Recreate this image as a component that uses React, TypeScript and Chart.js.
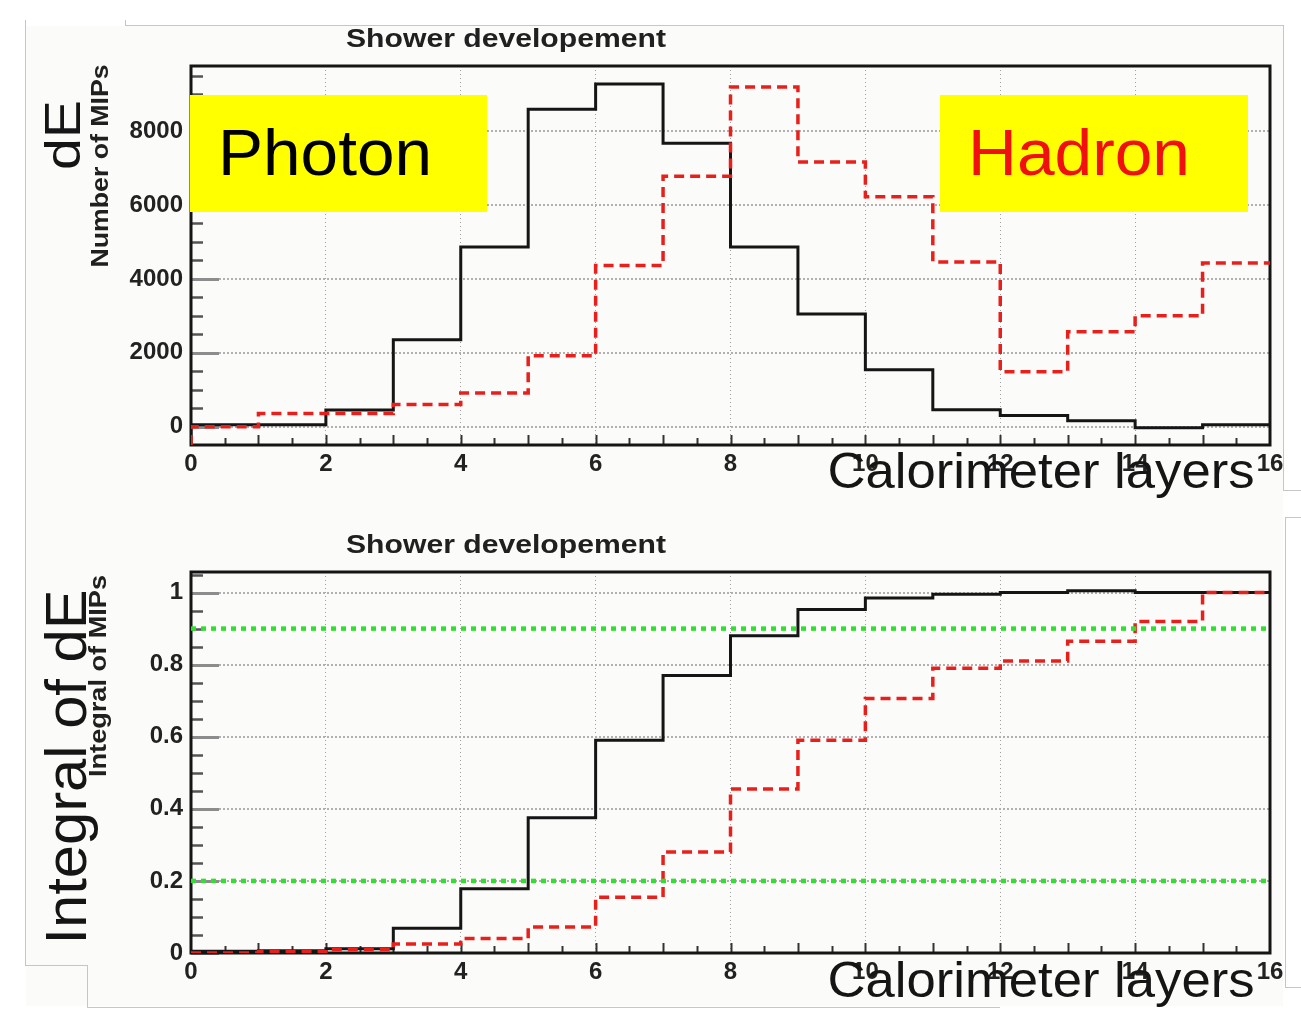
import React, { useEffect, useRef } from "react";
import { Chart, registerables } from "chart.js";

Chart.register(...registerables);

// ---------------- data ----------------
const LAYER_EDGES = [0, 1, 2, 3, 4, 5, 6, 7, 8, 9, 10, 11, 12, 13, 14, 15];
const X_MAX = 16;
const X_TICKS = [0, 2, 4, 6, 8, 10, 12, 14, 16];

const PHOTON_DE = [50, 50, 450, 2350, 4860, 8590, 9270, 7670, 4860, 3050, 1540, 460, 300, 160, -30, 50];
const HADRON_DE = [0, 360, 360, 600, 910, 1920, 4360, 6780, 9190, 7160, 6220, 4460, 1490, 2570, 3000, 4430];
const DE_TICKS = [0, 2000, 4000, 6000, 8000];
const DE_MIN = -495;
const DE_MAX = 9760;

const PHOTON_INT = [0.005, 0.006, 0.012, 0.069, 0.178, 0.375, 0.59, 0.77, 0.88, 0.953, 0.985, 0.995, 1.0, 1.005, 1.0, 1.0];
const HADRON_INT = [0.0, 0.004, 0.009, 0.025, 0.04, 0.072, 0.155, 0.28, 0.455, 0.59, 0.706, 0.79, 0.81, 0.865, 0.92, 1.0];
const INT_TICKS = [0, 0.2, 0.4, 0.6, 0.8, 1];
const INT_MIN = 0;
const INT_MAX = 1.057;
const THRESHOLDS = [0.9, 0.2];

const TITLE = "Shower developement";
const X_TITLE = "Calorimeter layers";

// ---------------- helpers ----------------
const FONT = "'Liberation Sans', Arial, Helvetica, sans-serif";
const BLACK = "#151515";
const RED = "#e8201c";
const GREEN = "#30e030";

function histPoints(values: number[], yMin: number) {
  const pts = [{ x: LAYER_EDGES[0], y: yMin }];
  values.forEach((v, i) => pts.push({ x: LAYER_EDGES[i], y: v }));
  pts.push({ x: X_MAX, y: values[values.length - 1] });
  return pts;
}

type TextSpec = {
  text: string;
  x: number;
  y: number;
  font: string;
  color: string;
  width?: number;
  rotate?: boolean;
};

function drawText(ctx: CanvasRenderingContext2D, t: TextSpec) {
  ctx.save();
  ctx.font = t.font;
  ctx.fillStyle = t.color;
  ctx.textBaseline = "alphabetic";
  ctx.textAlign = "center";
  const w = ctx.measureText(t.text).width;
  const sx = t.width ? t.width / w : 1;
  ctx.translate(t.x, t.y);
  if (t.rotate) ctx.rotate(-Math.PI / 2);
  ctx.scale(sx, 1);
  ctx.fillText(t.text, 0, 0);
  ctx.restore();
}

const rootDecor = {
  id: "rootDecor",
  beforeDatasetsDraw(chart: any, _args: any, opts: any) {
    const ctx: CanvasRenderingContext2D = chart.ctx;
    const a = chart.chartArea;
    const xs = chart.scales.x;
    const ys = chart.scales.y;
    ctx.save();
    // minor / major ticks on y axis (inside frame)
    const yStep = opts.yMinorStep;
    const start = Math.ceil(ys.min / yStep) * yStep;
    for (let v = start; v <= ys.max + 1e-9; v += yStep) {
      const py = Math.round(ys.getPixelForValue(v)) + 0.5;
      const major = opts.yMajor.some((m: number) => Math.abs(m - v) < yStep / 10);
      ctx.beginPath();
      ctx.strokeStyle = major ? "#8c8c8c" : "#555";
      ctx.lineWidth = major ? 3 : 2.5;
      ctx.moveTo(a.left, py);
      ctx.lineTo(a.left + (major ? 28 : 12), py);
      ctx.stroke();
    }
    // x ticks
    for (let v = 0.5; v < X_MAX; v += 0.5) {
      const px = Math.round(xs.getPixelForValue(v)) + 0.5;
      ctx.beginPath();
      ctx.strokeStyle = "#333";
      ctx.lineWidth = 2;
      ctx.moveTo(px, a.bottom);
      ctx.lineTo(px, a.bottom - (Number.isInteger(v) ? 10 : 7));
      ctx.stroke();
    }
    // frame
    ctx.strokeStyle = BLACK;
    ctx.lineWidth = 3;
    ctx.strokeRect(a.left, a.top, a.right - a.left, a.bottom - a.top);
    // boxes
    (opts.boxes || []).forEach((b: any) => {
      ctx.fillStyle = b.color;
      ctx.fillRect(b.x, b.y, b.w, b.h);
    });
    ctx.restore();
  },
  afterDraw(chart: any, _args: any, opts: any) {
    const ctx: CanvasRenderingContext2D = chart.ctx;
    (opts.texts || []).forEach((t: TextSpec) => drawText(ctx, t));
  },
};

function makeConfig(p: any) {
  const datasets: any[] = [
    {
      label: "photon",
      data: histPoints(p.photon, p.yMin),
      borderColor: BLACK,
      borderWidth: 3,
      stepped: "before",
      pointRadius: 0,
      fill: false,
      order: 2,
    },
    {
      label: "hadron",
      data: histPoints(p.hadron, p.yMin),
      borderColor: RED,
      borderWidth: 3.5,
      borderDash: [10, 6],
      stepped: "before",
      pointRadius: 0,
      fill: false,
      order: 1,
    },
  ];
  (p.thresholds || []).forEach((t: number, i: number) => {
    datasets.push({
      label: "thr" + i,
      data: [
        { x: 0, y: t },
        { x: X_MAX, y: t },
      ],
      borderColor: GREEN,
      borderWidth: 4.5,
      borderDash: [5, 5],
      pointRadius: 0,
      fill: false,
      order: 0,
    });
  });
  return {
    type: "line",
    data: { datasets },
    options: {
      animation: false,
      responsive: false,
      maintainAspectRatio: false,
      events: [],
      layout: { padding: { top: p.top, right: 31, left: 0, bottom: 0 } },
      plugins: {
        legend: { display: false },
        tooltip: { enabled: false },
        title: { display: false },
        rootDecor: {
          yMinorStep: p.yMinorStep,
          yMajor: p.yTicks,
          boxes: p.boxes,
          texts: p.texts,
        },
      },
      scales: {
        x: {
          type: "linear",
          min: 0,
          max: X_MAX,
          afterFit: (s: any) => {
            s.height = p.xAxisH;
          },
          afterBuildTicks: (s: any) => {
            s.ticks = X_TICKS.map((v) => ({ value: v }));
          },
          ticks: {
            autoSkip: false,
            maxRotation: 0,
            padding: 5,
            color: "#222",
            font: { family: FONT, size: 24, weight: "bold" },
            callback: (v: any) => String(v),
          },
          grid: { color: "#a0a0a0", lineWidth: 1, drawTicks: false },
          border: { display: false, dash: [1, 3] },
        },
        y: {
          type: "linear",
          min: p.yMin,
          max: p.yMax,
          afterFit: (s: any) => {
            s.width = 191;
          },
          afterBuildTicks: (s: any) => {
            s.ticks = p.yTicks.map((v: number) => ({ value: v }));
          },
          ticks: {
            padding: 8,
            color: "#222",
            font: { family: FONT, size: 24, weight: "bold" },
            callback: (v: any) => String(v),
          },
          grid: { color: "#b0b0b0", lineWidth: 2, drawTicks: false },
          border: { display: false, dash: [2, 2] },
        },
      },
    },
    plugins: [rootDecor],
  };
}

const TOP_PANEL = {
  photon: PHOTON_DE,
  hadron: HADRON_DE,
  yMin: DE_MIN,
  yMax: DE_MAX,
  yTicks: DE_TICKS,
  yMinorStep: 500,
  top: 66,
  xAxisH: 55,
  boxes: [
    { x: 190, y: 95, w: 297, h: 117, color: "#ffff00" },
    { x: 940, y: 95, w: 308, h: 117, color: "#ffff00" },
  ],
  texts: [
    { text: TITLE, x: 506, y: 47, font: `bold 26px ${FONT}`, color: "#202020", width: 320 },
    { text: X_TITLE, x: 1041, y: 488, font: `50px ${FONT}`, color: "#151515", width: 427 },
    { text: "dE", x: 80, y: 135, font: `50px ${FONT}`, color: "#151515", width: 70, rotate: true },
    { text: "Number of MIPs", x: 108, y: 166, font: `bold 24px ${FONT}`, color: "#202020", width: 203, rotate: true },
    { text: "Photon", x: 325, y: 175, font: `64px ${FONT}`, color: "#000", width: 214 },
    { text: "Hadron", x: 1079, y: 175, font: `64px ${FONT}`, color: "#f01010", width: 222 },
  ],
};

const BOTTOM_PANEL = {
  photon: PHOTON_INT,
  hadron: HADRON_INT,
  thresholds: THRESHOLDS,
  yMin: INT_MIN,
  yMax: INT_MAX,
  yTicks: INT_TICKS,
  yMinorStep: 0.05,
  top: 72,
  xAxisH: 56,
  boxes: [],
  texts: [
    { text: TITLE, x: 506, y: 53, font: `bold 26px ${FONT}`, color: "#202020", width: 320 },
    { text: X_TITLE, x: 1041, y: 497, font: `50px ${FONT}`, color: "#151515", width: 427 },
    { text: "Integral of dE", x: 86, y: 267, font: `58px ${FONT}`, color: "#151515", width: 355, rotate: true },
    { text: "Integral of MIPs", x: 106, y: 176, font: `bold 24px ${FONT}`, color: "#202020", width: 202, rotate: true },
  ],
};

function Panel({ spec, top, height }: { spec: any; top: number; height: number }) {
  const ref = useRef<HTMLCanvasElement | null>(null);
  useEffect(() => {
    if (!ref.current) return;
    const chart = new Chart(ref.current, makeConfig(spec) as any);
    return () => chart.destroy();
  }, [spec]);
  return (
    <canvas
      ref={ref}
      width={1301}
      height={height}
      style={{ position: "absolute", left: 0, top, width: 1301, height }}
    />
  );
}

const LINE = "#c6c6c6";
const DECOR_LINES = [
  { l: 125, t: 25, w: 1158, h: 1 },
  { l: 125, t: 20, w: 1, h: 5 },
  { l: 25, t: 20, w: 1, h: 945 },
  { l: 25, t: 965, w: 62, h: 1 },
  { l: 87, t: 965, w: 1, h: 42 },
  { l: 87, t: 1007, w: 913, h: 1 },
  { l: 1283, t: 25, w: 1, h: 465 },
  { l: 1283, t: 490, w: 18, h: 1 },
  { l: 1285, t: 517, w: 16, h: 1 },
  { l: 1285, t: 517, w: 1, h: 470 },
  { l: 1285, t: 987, w: 16, h: 1 },
];

export default function App() {
  return (
    <div
      style={{
        position: "absolute",
        left: 0,
        top: 0,
        width: 1301,
        height: 1009,
        background: "#ffffff",
        overflow: "hidden",
      }}
    >
      <div style={{ position: "absolute", left: 26, top: 26, width: 1257, height: 980, background: "#fbfbf9" }} />
      {DECOR_LINES.map((d, i) => (
        <div key={i} style={{ position: "absolute", left: d.l, top: d.t, width: d.w, height: d.h, background: LINE }} />
      ))}
      <Panel spec={TOP_PANEL} top={0} height={500} />
      <Panel spec={BOTTOM_PANEL} top={500} height={509} />
    </div>
  );
}
